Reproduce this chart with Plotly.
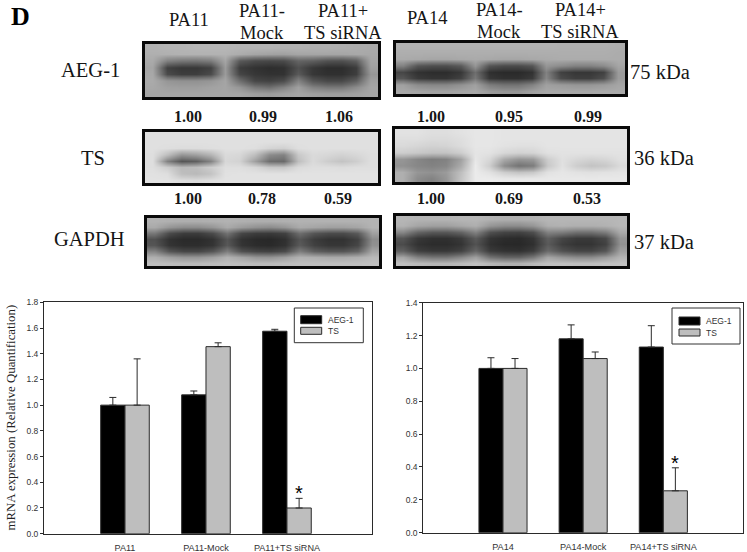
import plotly.graph_objects as go

W, H = 747, 552

# ---- bar chart data ----
cats_11 = ["PA11", "PA11-Mock", "PA11+TS siRNA"]
aeg_11 = [1.00, 1.08, 1.575]
aeg_11_err = [0.06, 0.03, 0.015]
ts_11 = [1.00, 1.455, 0.20]
ts_11_err = [0.36, 0.03, 0.075]

cats_14 = ["PA14", "PA14-Mock", "PA14+TS siRNA"]
aeg_14 = [1.00, 1.18, 1.13]
aeg_14_err = [0.065, 0.085, 0.13]
ts_14 = [1.00, 1.06, 0.255]
ts_14_err = [0.06, 0.04, 0.14]

ticks_11 = [0.0, 0.2, 0.4, 0.6, 0.8, 1.0, 1.2, 1.4, 1.6, 1.8]
ticks_14 = [0.0, 0.2, 0.4, 0.6, 0.8, 1.0, 1.2, 1.4]

# ---- blot densitometry read-outs ----
ratio_aeg_11 = ["1.00", "0.99", "1.06"]
ratio_ts_11 = ["1.00", "0.78", "0.59"]
ratio_aeg_14 = ["1.00", "0.95", "0.99"]
ratio_ts_14 = ["1.00", "0.69", "0.53"]

# ---- blot images: grey level, coarse grid ----
blot_aeg_11 = [
    [178,180,180,182,182,182,180,180,180,178,178,176,176,174,172,170],
    [175,176,178,178,178,178,172,165,162,160,165,165,165,165,168,168],
    [170,130,120,118,125,165, 90, 75, 72, 75,100, 95, 82, 80, 95,165],
    [165, 65, 55, 55, 65,155, 60, 50, 45, 48, 80, 55, 45, 45, 60,160],
    [168, 75, 62, 62, 75,155, 70, 55, 50, 50, 90, 55, 48, 48, 62,150],
    [170,150,145,145,150,165,110, 70, 65, 75,130, 85, 72, 72, 95,160],
    [168,160,158,158,162,165,150,120,110,130,160,130,120,120,140,165],
    [165,165,165,165,165,165,165,158,155,160,165,160,158,158,160,165],
]
blot_aeg_14 = [
    [178,178,178,178,178,178,178,178,178,178,178,176,176,176,176,174],
    [174,174,174,174,174,174,174,174,174,174,174,174,174,174,174,172],
    [170,168,165,165,168,170,168,165,165,168,170,172,172,172,172,172],
    [130, 85, 78, 78, 90,150, 85, 75, 75, 85,150,140,130,130,140,165],
    [ 70, 50, 45, 45, 55,110, 48, 42, 42, 50,130, 65, 55, 55, 65,155],
    [ 85, 58, 52, 52, 65,120, 55, 48, 48, 58,135, 75, 62, 62, 78,155],
    [160,140,135,135,145,160,125,115,115,130,160,155,150,150,155,165],
    [168,165,162,162,165,168,155,150,150,160,168,168,168,168,170,170],
]
blot_ts_11 = [
    [224,224,224,224,224,224,224,224,224,224,224,224,224,224,224,224],
    [224,224,224,224,224,224,224,224,224,224,224,224,224,224,224,224],
    [224,222,220,220,222,224,224,222,212,208,222,224,224,224,224,224],
    [222,190,150,160,180,218,215,190,140,130,200,218,215,210,215,222],
    [222,130, 85, 95,130,215,210,160,110,105,190,218,205,195,205,222],
    [222,205,185,190,205,222,222,215,200,198,218,222,222,220,222,222],
    [225,222,190,185,195,225,226,226,226,226,226,226,226,226,226,226],
    [226,226,220,218,222,226,226,226,226,226,226,226,226,226,226,226],
]
blot_ts_14 = [
    [226,226,222,222,226,230,230,228,228,228,228,228,228,228,228,228],
    [222,222,218,218,222,230,230,228,228,228,228,228,228,228,228,228],
    [218,214,210,212,220,230,230,226,224,224,228,228,228,228,228,228],
    [205,200,195,195,205,228,226,215,210,212,224,226,226,226,226,226],
    [150,135,125,130,160,230,215,170,150,155,205,224,215,210,214,224],
    [145,135,130,135,170,235,205,140,115,125,200,225,205,195,200,218],
    [175,150,145,155,190,235,225,205,195,200,225,230,226,224,226,228],
    [175,140,130,150,195,235,235,232,232,232,232,232,232,232,232,232],
]
blot_gapdh_11 = [
    [178,176,174,174,176,178,176,174,174,176,178,178,178,178,178,180],
    [170,150,140,140,150,170,155,145,140,150,170,165,160,160,165,180],
    [120, 75, 60, 60, 75,115, 70, 60, 58, 65,110, 85, 75, 75, 90,160],
    [ 80, 50, 42, 42, 50, 85, 50, 42, 40, 48, 85, 60, 50, 50, 65,140],
    [ 85, 52, 45, 45, 52, 88, 52, 44, 42, 50, 90, 65, 55, 55, 70,145],
    [130, 85, 70, 70, 85,125, 80, 68, 65, 75,125, 95, 85, 85,100,165],
    [175,160,150,150,160,178,165,150,148,160,178,175,170,170,175,185],
    [190,188,186,186,188,190,188,186,186,188,190,190,190,190,190,192],
]
blot_gapdh_14 = [
    [182,180,180,180,182,182,178,176,176,178,182,182,182,182,182,184],
    [178,165,160,160,168,175,150,140,140,150,175,178,175,175,178,184],
    [135,100, 88, 88,100,130, 80, 68, 66, 78,130,125,112,112,125,170],
    [ 85, 56, 48, 48, 58, 90, 52, 44, 42, 52, 95, 70, 58, 58, 72,150],
    [ 75, 50, 44, 44, 52, 82, 48, 40, 40, 48, 90, 62, 52, 52, 65,145],
    [ 95, 62, 55, 55, 65,100, 58, 50, 48, 60,105, 80, 68, 68, 85,160],
    [165,130,118,118,135,160,115,100,100,120,165,150,140,140,155,180],
    [192,186,182,182,186,192,182,176,176,184,192,192,190,190,192,194],
]


def dx(left, right):
    return [left / W, right / W]


def dy(top, bottom):
    return [1 - bottom / H, 1 - top / H]


def px(x):
    return x / W


def py(y):
    return 1 - y / H


fig = go.Figure()
layout_axes = {}
frame = "#0a0a0a"

# ---- blots ----
blots = [
    (blot_aeg_11, (145, 378), (44, 97)),
    (blot_ts_11, (145, 378), (132, 183)),
    (blot_gapdh_11, (147, 379), (218, 266)),
    (blot_aeg_14, (396, 625), (43, 94)),
    (blot_ts_14, (395, 627), (129, 182)),
    (blot_gapdh_14, (396, 627), (216, 266)),
]
for i, (z, xs, ys) in enumerate(blots):
    n = i + 1
    xname = "x" if n == 1 else f"x{n}"
    yname = "y" if n == 1 else f"y{n}"
    fig.add_trace(go.Heatmap(
        z=z, xaxis=xname, yaxis=yname, zmin=0, zmax=255, zsmooth="best",
        colorscale=[[0, "#000000"], [1, "#ffffff"]], showscale=False, hoverinfo="skip",
    ))
    key = "" if n == 1 else str(n)
    layout_axes[f"xaxis{key}"] = dict(
        domain=dx(*xs), range=[-0.5, len(z[0]) - 0.5], showticklabels=False, ticks="",
        showgrid=False, zeroline=False, showline=True, linecolor=frame, linewidth=2.5,
        mirror=True, anchor=yname, automargin=False,
    )
    layout_axes[f"yaxis{key}"] = dict(
        domain=dy(*ys), range=[len(z) - 0.5, -0.5], showticklabels=False, ticks="",
        showgrid=False, zeroline=False, showline=True, linecolor=frame, linewidth=2.5,
        mirror=True, anchor=xname, automargin=False,
    )

# ---- bar charts ----
ink = "#2a2a2a"
grey = "#bebebe"
charts = [
    (7, cats_11, aeg_11, aeg_11_err, ts_11, ts_11_err, ticks_11, [0, 1.8], (44, 372), (302.3, 533.7), [-1.0, 3.05]),
    (8, cats_14, aeg_14, aeg_14_err, ts_14, ts_14_err, ticks_14, [0, 1.4], (423.3, 742.7), (302.7, 532.7), [-0.994, 2.99]),
]
tick_font = dict(family="Liberation Sans", size=8.5, color="#333333")
x_tick_font = dict(family="Liberation Sans", size=9.1, color="#333333")
for n, cats, aeg, aeg_e, ts, ts_e, ticks, yr, xs, ys, xr in charts:
    for name, vals, errs, col in (("AEG-1", aeg, aeg_e, "#000000"), ("TS", ts, ts_e, grey)):
        fig.add_trace(go.Bar(
            x=cats, y=vals, name=name, xaxis=f"x{n}", yaxis=f"y{n}", showlegend=False,
            marker=dict(color=col, line=dict(color=ink, width=1)),
            error_y=dict(type="data", array=errs, arrayminus=[0, 0, 0], symmetric=False,
                         color=ink, thickness=1, width=3.5),
        ))
    layout_axes[f"xaxis{n}"] = dict(
        domain=dx(*xs), range=xr, type="category", categoryorder="array", categoryarray=cats,
        ticks="", showgrid=False, zeroline=False, showline=True, linecolor=ink, linewidth=1,
        mirror=True, anchor=f"y{n}", tickfont=x_tick_font, ticklabelstandoff=5, automargin=False,
    )
    layout_axes[f"yaxis{n}"] = dict(
        domain=dy(*ys), range=yr, tickvals=ticks, ticktext=[f"{t:.1f}" for t in ticks],
        ticks="outside", ticklen=3, tickwidth=1, tickcolor=ink, showgrid=False,
        zeroline=False, showline=True, linecolor=ink, linewidth=1, mirror=True,
        anchor=f"x{n}", tickfont=tick_font, automargin=False,
    )

# ---- text ----
annotations = []
serif = "Liberation Serif"
ink_text = "#151515"


def label(text, x, y, size, bold=False, family=serif, color=ink_text):
    annotations.append(dict(
        text=f"<b>{text}</b>" if bold else text, x=px(x), y=py(y), xref="paper", yref="paper",
        showarrow=False, xanchor="center", yanchor="middle",
        font=dict(family=family, size=size, color=color),
    ))


label("D", 20, 16, 26, bold=True, color="#000000")
for text, x, y in (("PA11", 189, 20), ("PA11-", 262, 11), ("Mock", 262, 33),
                   ("PA11+", 343, 11), ("TS siRNA", 343, 33),
                   ("PA14", 427, 18), ("PA14-", 499, 10), ("Mock", 499, 32),
                   ("PA14+", 580, 10), ("TS siRNA", 580, 32)):
    label(text, x, y, 18.5)
for text, x in zip(ratio_aeg_11, (188, 263, 339)):
    label(text, x, 116, 16, bold=True)
for text, x in zip(ratio_ts_11, (188, 262, 338)):
    label(text, x, 199, 16, bold=True)
for text, x in zip(ratio_aeg_14, (431, 509, 588)):
    label(text, x, 116, 16, bold=True)
for text, x in zip(ratio_ts_14, (431, 509, 587)):
    label(text, x, 199, 16, bold=True)
label("AEG-1", 90, 70, 20.5)
label("TS", 93, 158, 20.5)
label("GAPDH", 89, 239, 20.5)
label("75 kDa", 660, 72, 20.5)
label("36 kDa", 664, 158, 20.5)
label("37 kDa", 664, 242, 20.5)

annotations.append(dict(
    text="mRNA expression (Relative Quantification)", x=px(10), y=py(417.5), xref="paper", yref="paper",
    showarrow=False, textangle=-90, xanchor="center", yanchor="middle",
    font=dict(family=serif, size=12.8, color="#222222"),
))

# significance stars anchored on the TS bars
for xa, ya, cat, v, e in (("x7", "y7", cats_11[2], ts_11[2], ts_11_err[2]),
                          ("x8", "y8", cats_14[2], ts_14[2], ts_14_err[2])):
    annotations.append(dict(
        text="*", x=cat, y=v + e, xref=xa, yref=ya, xshift=12, yshift=-8, showarrow=False,
        xanchor="center", yanchor="bottom",
        font=dict(family="Liberation Sans", size=20, color="#000000"),
    ))

# ---- legend keys ----
shapes = []
for (l, t, r, b), sx, rows, tx in (
    ((294.3, 308, 363.3, 342.7), (300.7, 321.7), [(315.7, 323.7), (327.3, 334.3)], 326),
    ((672, 308, 740, 344), (679, 700), [(317, 325), (329, 336)], 704),
):
    shapes.append(dict(type="rect", xref="paper", yref="paper", x0=px(l), x1=px(r), y0=py(b), y1=py(t),
                       fillcolor="#ffffff", line=dict(color="#333333", width=1)))
    for (t0, b0), col, name in zip(rows, ("#000000", grey), ("AEG-1", "TS")):
        shapes.append(dict(type="rect", xref="paper", yref="paper", x0=px(sx[0]), x1=px(sx[1]),
                           y0=py(b0), y1=py(t0), fillcolor=col, line=dict(color=ink, width=1)))
        annotations.append(dict(
            text=name, x=px(tx), y=py((t0 + b0) / 2), xref="paper", yref="paper", showarrow=False,
            xanchor="left", yanchor="middle", font=tick_font,
        ))

fig.update_layout(
    width=W, height=H, margin=dict(l=0, r=0, t=0, b=0), paper_bgcolor="#ffffff", plot_bgcolor="#ffffff",
    barmode="group", bargap=0.4, bargroupgap=0, showlegend=False,
    annotations=annotations, shapes=shapes, **layout_axes,
)
fig.write_html("out.html", config={"displayModeBar": False}, post_script="document.body.style.margin='0';")
